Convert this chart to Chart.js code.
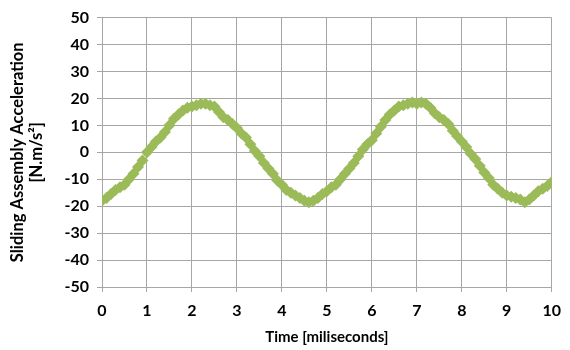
<!DOCTYPE html>
<html><head><meta charset="utf-8">
<script src="https://cdn.jsdelivr.net/npm/chart.js@4/dist/chart.umd.min.js"></script>
<style>html,body{margin:0;padding:0;background:#fff}#wrap{width:570px;height:350px}</style>
</head><body><div id="wrap"><canvas id="c"></canvas></div>
<script>
const timeMs = [0.0,0.1,0.2,0.3,0.4,0.5,0.6,0.7,0.8,0.9,1.0,1.1,1.2,1.3,1.4,1.5,1.6,1.7,1.8,1.9,2.0,2.1,2.2,2.3,2.4,2.5,2.6,2.7,2.8,2.9,3.0,3.1,3.2,3.3,3.4,3.5,3.6,3.7,3.8,3.9,4.0,4.1,4.2,4.3,4.4,4.5,4.6,4.7,4.8,4.9,5.0,5.1,5.2,5.3,5.4,5.5,5.6,5.7,5.8,5.9,6.0,6.1,6.2,6.3,6.4,6.5,6.6,6.7,6.8,6.9,7.0,7.1,7.2,7.3,7.4,7.5,7.6,7.7,7.8,7.9,8.0,8.1,8.2,8.3,8.4,8.5,8.6,8.7,8.8,8.9,9.0,9.1,9.2,9.3,9.4,9.5,9.6,9.7,9.8,9.9,10.0];
const acceleration = [-18,-17,-15.5,-14,-13,-12,-10,-8,-5.5,-3,0,2,4,5.5,7.5,10,12.5,14,15.5,16.5,17,17.5,18,18,17.5,17,15,13,12,10.5,9,7,5.5,3,0.5,-1.5,-4,-6,-8,-10.5,-12,-14,-15,-16,-17,-18,-18.5,-18,-17,-15.5,-14.5,-13,-12,-10,-8,-6,-4,-1.5,1,3,4.5,7,9.5,12,14,15.5,17,17.5,18,18.5,18,18.5,18,16.5,14.5,13,12,10.5,8,6,4,2,-0.5,-2.5,-5,-7.5,-9.5,-12,-13.5,-15,-16,-16.5,-17,-17.5,-18.5,-17.5,-16,-14.5,-13.5,-12.5,-11];
const xTitle = 'Time [miliseconds]';
const yTitle = ['Sliding Assembly Acceleration', '[N.m/s²]'];

const pts = timeMs.map((t, i) => ({x: t, y: acceleration[i]}));
const font = {family: 'Lato, "Open Sans", sans-serif', weight: 'bold'};
new Chart(document.getElementById('c'), {
  type: 'scatter',
  data: {datasets: [{data: pts, pointStyle: 'rectRot', pointRadius: 6, pointHoverRadius: 6,
    backgroundColor: '#9BBB59', borderColor: '#9BBB59', borderWidth: 0}]},
  options: {
    responsive: true, maintainAspectRatio: false, animation: false,
    layout: {padding: {top: 16, right: 10, left: 0, bottom: 0}},
    plugins: {legend: {display: false}, tooltip: {enabled: false}},
    scales: {
      x: {min: 0, max: 10,
        ticks: {stepSize: 1, color: '#000', font: {...font, size: 16}, padding: 9, maxRotation: 0},
        grid: {color: '#A6A6A6', tickLength: 5, lineWidth: 1},
        border: {color: '#A6A6A6'},
        title: {display: true, text: xTitle, color: '#000', font: {...font, size: 15}, padding: {top: 1}},
        afterFit: s => { s.height = 63; }
      },
      y: {min: -50, max: 50,
        ticks: {stepSize: 10, color: '#000', font: {...font, size: 16}, padding: 8},
        grid: {color: '#A6A6A6', tickLength: 5, lineWidth: 1},
        border: {color: '#A6A6A6'},
        title: {display: true, text: yTitle, color: '#000', font: {...font, size: 16.5, lineHeight: 1.15}, padding: {top: 8, bottom: 4}},
        afterFit: s => { s.width = 102; }
      }
    }
  }
});
</script></body></html>
